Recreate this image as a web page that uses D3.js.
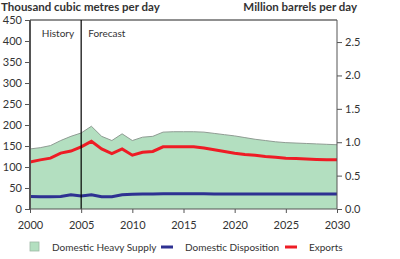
<!DOCTYPE html>
<html>
<head>
<meta charset="utf-8">
<script src="https://cdn.jsdelivr.net/npm/d3@7"></script>
<style>
body{margin:0;background:#fff;}
text{font-family:Lato,"Open Sans",sans-serif;fill:#333;}
</style>
</head>
<body>
<svg width="400" height="259"></svg>
<script>
(()=>{
	//data
	let years = d3.range(2000, 2031);
	let heavySupply = [143,146,151,163,173,181,197,173,163,179,163,171,173,183,184,184,184,183,180,177,174,170,166,163,160,158,157,156,155,154,153];
	let disposition = [30,29,29,30,34,31,34,29,29,34,35,36,36,36.5,36.5,36.5,36.5,36.5,36,36,36,36,36,36,36,36,36,36,36,36,36];
	let exportsVals = [112,117,121,133,138,148,161,143,132,143,128,135,137,148,148,148,148,145,141,137,133,130,128,125,123,121,120,119,118,117.5,117];
	let leftTicks = [0,50,100,150,200,250,300,350,400,450];
	let rightTicks = [0,0.5,1.0,1.5,2.0,2.5];
	let xTicks = [2000,2005,2010,2015,2020,2025,2030];
	let legendItems = [
		{name:"Domestic Heavy Supply", type:"box", color:"#b3dfc0"},
		{name:"Domestic Disposition", type:"line", color:"#2e3192"},
		{name:"Exports", type:"line", color:"#ee1c25"}
	];

	let svg = d3.select("svg");
	let left = 30, right = 337, top = 20, bottom = 209;

	let x = d3.scaleLinear().domain([2000,2030]).range([left,right]);
	let y = d3.scaleLinear().domain([0,450]).range([bottom,top]);
	let y2 = d3.scaleLinear().domain([0,450/159]).range([bottom,top]);

	let rows = years.map((yr,i)=>({yr:yr, a:heavySupply[i], b:disposition[i], c:exportsVals[i]}));

	//area
	svg.append("path")
		.datum(rows)
		.attr("d", d3.area().x(d=>x(d.yr)).y0(y(0)).y1(d=>y(d.a)))
		.attr("fill", "#b3dfc0");
	svg.append("path")
		.datum(rows)
		.attr("d", d3.line().x(d=>x(d.yr)).y(d=>y(d.a)))
		.attr("fill", "none")
		.attr("stroke", "#8f9c93")
		.attr("stroke-width", 1);

	//lines
	svg.append("path")
		.datum(rows)
		.attr("d", d3.line().x(d=>x(d.yr)).y(d=>y(d.b)))
		.attr("fill", "none")
		.attr("stroke", "#2e3192")
		.attr("stroke-width", 3);
	svg.append("path")
		.datum(rows)
		.attr("d", d3.line().x(d=>x(d.yr)).y(d=>y(d.c)))
		.attr("fill", "none")
		.attr("stroke", "#ee1c25")
		.attr("stroke-width", 3);

	//frame
	svg.append("line").attr("x1",left).attr("x2",right).attr("y1",top).attr("y2",top).attr("stroke","#222").attr("stroke-width",1.2);
	svg.append("line").attr("x1",x(2005)).attr("x2",x(2005)).attr("y1",top).attr("y2",bottom).attr("stroke","#000").attr("stroke-width",1.2);

	//axes
	let gl = svg.append("g").attr("transform","translate("+left+",0)")
		.call(d3.axisLeft(y).tickValues(leftTicks).tickSize(5).tickPadding(3));
	let gb = svg.append("g").attr("transform","translate(0,"+bottom+")")
		.call(d3.axisBottom(x).tickValues(xTicks).tickFormat(d3.format("d")).tickSize(4).tickPadding(8));
	let gr = svg.append("g").attr("transform","translate("+right+",0)")
		.call(d3.axisRight(y2).tickValues(rightTicks).tickFormat(d3.format(".1f")).tickSize(5).tickPadding(3));
	[gl,gb,gr].forEach(g=>{
		g.selectAll("text").style("font-size","11px").attr("fill","#444").style("font-family","Lato,sans-serif");
		g.selectAll(".tick line").attr("stroke","#555");
		g.select(".domain").attr("stroke","#555");
	});
	gl.select(".domain").attr("stroke-width",2).attr("d","M0,"+top+"V"+bottom);
	gr.select(".domain").attr("d","M0,"+top+"V"+bottom);
	gb.select(".domain").attr("d","M"+left+",0H"+right);

	//titles
	svg.append("text").attr("x",1).attr("y",11).text("Thousand cubic metres per day")
		.style("font-size","11.5px").style("font-weight","bold").attr("fill","#222");
	svg.append("text").attr("x",357).attr("y",11).attr("text-anchor","end").text("Million barrels per day")
		.style("font-size","11.5px").style("font-weight","bold").attr("fill","#222");

	svg.append("text").attr("x",x(2005)-7).attr("y",37).attr("text-anchor","end").text("History").style("font-size","10px");
	svg.append("text").attr("x",x(2005)+7).attr("y",37).text("Forecast").style("font-size","10px");

	//legend
	let lx = [30,161,285];
	let lg = svg.selectAll(".leg").data(legendItems).enter().append("g")
		.attr("class","leg").attr("transform",(d,i)=>"translate("+lx[i]+",247)");
	lg.filter(d=>d.type=="box").append("rect")
		.attr("x",0).attr("y",-5).attr("width",9).attr("height",9)
		.attr("fill",d=>d.color).attr("stroke","#9fb8a6").attr("stroke-width",0.8);
	lg.filter(d=>d.type=="line").append("line")
		.attr("x1",0).attr("x2",12).attr("y1",0).attr("y2",0)
		.attr("stroke",d=>d.color).attr("stroke-width",3);
	lg.append("text").attr("x",(d,i)=>i==0?22:24).attr("y",4).text(d=>d.name)
		.style("font-size","10px").attr("fill","#444");
})();
</script>
</body>
</html>
